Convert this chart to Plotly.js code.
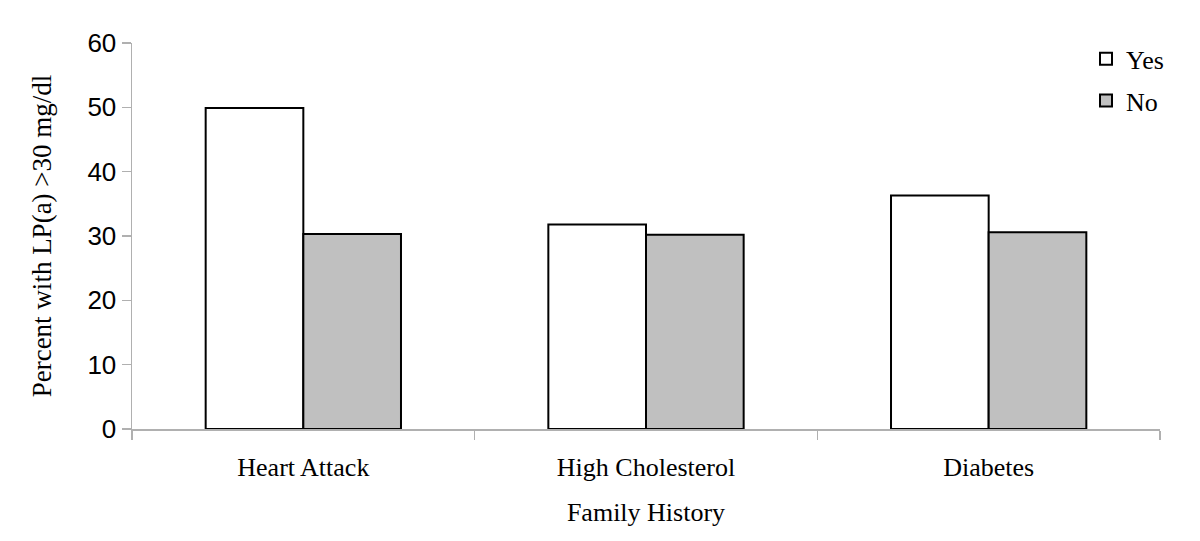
<!DOCTYPE html>
<html>
<head>
<meta charset="utf-8">
<script src="https://cdn.plot.ly/plotly-3.0.1.min.js"></script>
<style>
  html, body { margin: 0; padding: 0; background: #fff; }
  #lpa-viz { width: 1200px; height: 541px; }
</style>
</head>
<body>
<div id="lpa-viz"></div>
<script>
// Family history categories and percent with LP(a) > 30 mg/dl
var categories = ['Heart Attack', 'High Cholesterol', 'Diabetes'];
var yValues_yes = [49.9, 31.8, 36.3];
var yValues_no = [30.3, 30.2, 30.6];
var yTicks = [0, 10, 20, 30, 40, 50, 60];

var trace_yes = {
  x: categories,
  y: yValues_yes,
  type: 'bar',
  name: 'Yes',
  legendgroup: 'yes',
  hoverinfo: 'none',
  marker: {
	color: '#ffffff',
	line: { color: '#000000', width: 2 }
  }
};

var trace_no = {
  x: categories,
  y: yValues_no,
  type: 'bar',
  name: 'No',
  legendgroup: 'no',
  hoverinfo: 'none',
  marker: {
	color: '#c0c0c0',
	line: { color: '#000000', width: 2 }
  }
};

var data = [trace_yes, trace_no];

var serif = 'Liberation Serif, Times New Roman, serif';

var layout = {
	width: 1200,
	height: 541,
	margin: { l: 132, r: 40, t: 43, b: 112 },
	paper_bgcolor: '#ffffff',
	plot_bgcolor: '#ffffff',
	barmode: 'group',
	bargap: 0.43,
	bargroupgap: 0,
	showlegend: true,
	legend: {
		x: 0.928, y: 1.02, xanchor: 'left', yanchor: 'top',
		font: { family: serif, size: 26, color: '#000' },
		traceorder: 'grouped',
		tracegroupgap: 5,
		bgcolor: 'rgba(0,0,0,0)'
	},
	xaxis: {
		type: 'category',
		showline: true, linecolor: '#b0b0b0', linewidth: 1.5,
		ticks: 'outside', tickson: 'boundaries', ticklen: 9, tickcolor: '#b0b0b0', tickwidth: 1.5,
		ticklabelstandoff: 14,
		showgrid: false, zeroline: false,
		tickfont: { family: serif, size: 26, color: '#000' },
		title: { text: 'Family History', font: { family: serif, size: 26, color: '#000' }, standoff: 22 }
	},
	yaxis: {
		range: [0, 60],
		tickvals: yTicks,
		showline: true, linecolor: '#b0b0b0', linewidth: 1.5,
		ticks: 'outside', ticklen: 9, tickcolor: '#b0b0b0', tickwidth: 1.5,
		showgrid: false, zeroline: false,
		tickfont: { family: 'Liberation Sans, Arial, sans-serif', size: 26, color: '#000' },
		title: { text: 'Percent with LP(a) >30 mg/dl', font: { family: serif, size: 27, color: '#000' }, standoff: 28 }
	}
};

Plotly.newPlot('lpa-viz', data, layout, { displayModeBar: false, staticPlot: true });
</script>
</body>
</html>
